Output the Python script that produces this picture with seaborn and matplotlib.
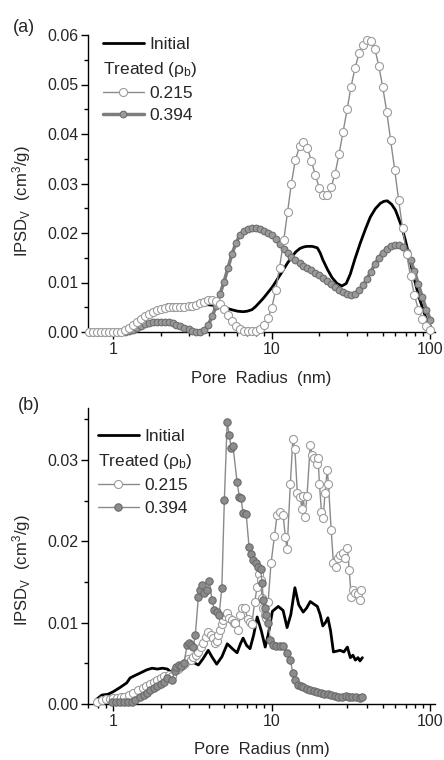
import matplotlib
matplotlib.use("Agg")
import numpy as np
import pandas as pd
import matplotlib.pyplot as plt
import seaborn as sns
from matplotlib.lines import Line2D
from matplotlib.ticker import MultipleLocator, LogLocator, NullFormatter, FormatStrFormatter

# ---------------- panel (a) ----------------
a_init_x = [2.2, 2.6, 3.0, 3.5, 4.0, 4.5, 5.2, 5.6, 6.1, 6.6, 7.0, 7.5, 7.9, 8.85, 10.1, 11.6,
            12.5, 13.4, 14.2, 15.1, 16.0, 16.7, 18.0, 19.4, 20.2, 21.0, 22.5, 24.0, 25.8, 27.7,
            29.5, 31.3, 33.5, 36.2, 39.0, 41.8, 45.0, 48.4, 51.0, 53.5, 57.0, 60.3, 63.0,
            66.4, 69.5, 72.7, 76.5, 80.4, 84.5, 89.0, 93.0, 96.0, 100.0]
a_init_y = [0.0055, 0.0055, 0.0055, 0.0055, 0.0055, 0.0053, 0.0048, 0.0045, 0.0042, 0.0041,
            0.0042, 0.0045, 0.0051, 0.0068, 0.0091, 0.0121, 0.0138, 0.0152, 0.0162, 0.0169,
            0.0172, 0.0173, 0.0173, 0.0170, 0.0160, 0.0146, 0.0126, 0.0110, 0.0098, 0.0093,
            0.0098, 0.0117, 0.0148, 0.0180, 0.0208, 0.0232, 0.0249, 0.0260, 0.0264, 0.0265,
            0.0258, 0.0246, 0.0230, 0.0210, 0.0186, 0.0160, 0.0128, 0.0099, 0.0072, 0.0050,
            0.0032, 0.0022, 0.0012]

a_215_x = [0.71, 0.75, 0.79, 0.84, 0.89, 0.94, 1.00, 1.06, 1.12, 1.19, 1.26, 1.33, 1.41, 1.50,
           1.58, 1.68, 1.78, 1.88, 2.00, 2.11, 2.24, 2.37, 2.51, 2.66, 2.82, 2.99, 3.16, 3.35,
           3.55, 3.76, 3.98, 4.22, 4.47, 4.73, 5.01, 5.31, 5.62, 5.96, 6.31, 6.68, 7.08, 7.50,
           7.94, 8.41, 8.91, 9.44, 10.0, 10.6, 11.2, 11.9, 12.6, 13.3, 14.1, 15.0, 15.8, 16.8,
           17.8, 18.8, 20.0, 21.1, 22.4, 23.7, 25.1, 26.6, 28.2, 29.9, 31.6, 33.5, 35.5, 37.6,
           39.8, 42.2, 44.7, 47.3, 50.1, 53.1, 56.2, 59.6, 63.1, 66.8, 70.8, 75.0, 79.4, 84.1,
           89.1, 94.4, 100.0]
a_215_y = [0.0, 0.0, 0.0, 0.0, 0.0, 0.0, 0.0, 0.0, 0.0001, 0.0004, 0.0009, 0.0015, 0.0021,
           0.0027, 0.0032, 0.0037, 0.0041, 0.0044, 0.0047, 0.0049, 0.0050, 0.0051, 0.0051,
           0.0051, 0.0051, 0.0052, 0.0053, 0.0055, 0.0058, 0.0061, 0.0064, 0.0065, 0.0063,
           0.0056, 0.0046, 0.0034, 0.0022, 0.0012, 0.0006, 0.0003, 0.0002, 0.0002, 0.0003,
           0.0006, 0.0014, 0.0028, 0.0048, 0.0085, 0.0130, 0.0185, 0.0243, 0.0300, 0.0348,
           0.0375, 0.0383, 0.0372, 0.0345, 0.0318, 0.0290, 0.0277, 0.0277, 0.0293, 0.0320,
           0.0360, 0.0405, 0.0450, 0.0495, 0.0533, 0.0563, 0.0580, 0.0590, 0.0587, 0.0572,
           0.0538, 0.0495, 0.0445, 0.0387, 0.0328, 0.0267, 0.0210, 0.0158, 0.0113, 0.0074,
           0.0045, 0.0027, 0.0013, 0.0004]

a_394_x = [1.19, 1.26, 1.33, 1.41, 1.50, 1.58, 1.68, 1.78, 1.88, 2.00, 2.11, 2.24, 2.37, 2.51,
           2.66, 2.82, 2.99, 3.16, 3.35, 3.55, 3.76, 3.98, 4.22, 4.47, 4.73, 5.01, 5.31, 5.62,
           5.96, 6.31, 6.68, 7.08, 7.50, 7.94, 8.41, 8.91, 9.44, 10.0, 10.6, 11.2, 11.9, 12.6,
           13.3, 14.1, 15.0, 15.8, 16.8, 17.8, 18.8, 20.0, 21.1, 22.4, 23.7, 25.1, 26.6, 28.2,
           29.9, 31.6, 33.5, 35.5, 37.6, 39.8, 42.2, 44.7, 47.3, 50.1, 53.1, 56.2, 59.6, 63.1,
           66.8, 70.8, 75.0, 79.4, 84.1, 89.1, 94.4, 100.0]
a_394_y = [0.0, 0.0002, 0.0005, 0.0009, 0.0013, 0.0016, 0.0018, 0.0020, 0.0021, 0.0021,
           0.0021, 0.0020, 0.0018, 0.0015, 0.0012, 0.0009, 0.0006, 0.0003, 0.0001, 0.0001,
           0.0004, 0.0014, 0.0032, 0.0053, 0.0077, 0.0102, 0.0130, 0.0158, 0.0180, 0.0196,
           0.0205, 0.0209, 0.0210, 0.0210, 0.0208, 0.0205, 0.0200, 0.0196, 0.0188, 0.0178,
           0.0168, 0.0160, 0.0152, 0.0145, 0.0139, 0.0134, 0.0129, 0.0125, 0.0120, 0.0115,
           0.0109, 0.0103, 0.0097, 0.0091, 0.0085, 0.0080, 0.0076, 0.0075, 0.0077, 0.0084,
           0.0094, 0.0107, 0.0122, 0.0137, 0.0150, 0.0160, 0.0168, 0.0173, 0.0176, 0.0176,
           0.0172, 0.0162, 0.0145, 0.0123, 0.0096, 0.0070, 0.0045, 0.0025]

# ---------------- panel (b) ----------------
b_init_x = [0.79, 0.85, 0.93, 1.0, 1.1, 1.22, 1.28, 1.34, 1.48, 1.63, 1.76, 1.9, 2.05, 2.2,
            2.35, 2.6, 2.9, 3.14, 3.45, 3.7, 3.98, 4.2, 4.5, 4.85, 5.25, 5.65, 6.05, 6.35, 6.6,
            6.95, 7.3, 7.7, 8.1, 8.6, 9.1, 9.5, 10.1, 11.0, 11.8, 12.5, 13.2, 14.0, 14.8, 15.8,
            16.6, 17.5, 18.4, 19.4, 20.2, 21.0, 21.8, 22.6, 23.5, 24.5, 25.7, 27.0, 28.5, 30.0,
            31.3, 32.5, 33.7, 35.0, 36.0, 37.3]
b_init_y = [0.0006, 0.0011, 0.0012, 0.0015, 0.0020, 0.0026, 0.0032, 0.0034, 0.0038, 0.0042,
            0.0044, 0.0043, 0.0044, 0.0043, 0.0038, 0.0042, 0.0048, 0.0052, 0.0048, 0.0056,
            0.0066, 0.0058, 0.0049, 0.0058, 0.0074, 0.0068, 0.0063, 0.0074, 0.0081, 0.0072,
            0.0068, 0.0085, 0.0107, 0.0090, 0.0070, 0.0085, 0.0114, 0.0120, 0.0115, 0.0094,
            0.0110, 0.0143, 0.0122, 0.0113, 0.0118, 0.0126, 0.0123, 0.0120, 0.0110, 0.0096,
            0.0100, 0.0106, 0.0090, 0.0064, 0.0065, 0.0066, 0.0064, 0.0070, 0.0057, 0.0060,
            0.0054, 0.0057, 0.0053, 0.0057]

b_215_x = [0.79, 0.85, 0.90, 0.95, 1.0, 1.06, 1.12, 1.18, 1.26, 1.34, 1.44, 1.55, 1.62, 1.70,
           1.80, 1.90, 2.0, 2.1, 2.25, 2.35, 2.45, 2.55, 2.65, 2.75, 2.85, 2.95, 3.1, 3.2, 3.35,
           3.45, 3.6, 3.7, 3.85, 3.98, 4.12, 4.27, 4.4, 4.5, 4.6, 4.72, 4.85, 4.95, 5.08, 5.2,
           5.4, 5.6, 5.75, 5.9, 6.15, 6.35, 6.5, 6.8, 7.05, 7.3, 7.5, 7.8, 8.1, 8.35, 8.5, 8.7,
           8.85, 9.05, 9.25, 9.5, 9.9, 10.4, 10.8, 11.3, 11.8, 12.2, 12.5, 13.1, 13.6, 14.0,
           14.5, 15.1, 15.5, 15.8, 16.2, 16.7, 17.5, 18.0, 18.6, 19.2, 19.6, 20.0, 20.6, 21.1,
           21.7, 22.4, 22.8, 23.7, 24.5, 25.3, 26.0, 27.0, 28.0, 29.0, 30.0, 30.8, 31.7, 32.7,
           33.7, 34.8, 35.8, 36.8]
b_215_y = [0.0003, 0.0005, 0.0006, 0.0006, 0.0007, 0.0007, 0.0008, 0.0009, 0.0011, 0.0014,
           0.0017, 0.0020, 0.0022, 0.0024, 0.0027, 0.0030, 0.0032, 0.0034, 0.0036, 0.0035,
           0.0042, 0.0043, 0.0046, 0.0048, 0.0050, 0.0055, 0.0054, 0.0058, 0.0060, 0.0064,
           0.0070, 0.0075, 0.0082, 0.0089, 0.0085, 0.0081, 0.0075, 0.0077, 0.0085, 0.0091,
           0.0098, 0.0103, 0.0108, 0.0112, 0.0106, 0.0103, 0.0100, 0.0099, 0.0091, 0.0110,
           0.0118, 0.0118, 0.0104, 0.0101, 0.0098, 0.0125, 0.0144, 0.0160, 0.0153, 0.0130,
           0.0118, 0.0110, 0.0106, 0.0126, 0.0173, 0.0206, 0.0232, 0.0236, 0.0233, 0.0205,
           0.0190, 0.0270, 0.0326, 0.0314, 0.0260, 0.0255, 0.0240, 0.0256, 0.0230, 0.0256,
           0.0319, 0.0306, 0.0302, 0.0295, 0.0302, 0.0270, 0.0236, 0.0229, 0.0260, 0.0288,
           0.0270, 0.0214, 0.0173, 0.0168, 0.0180, 0.0183, 0.0186, 0.0180, 0.0192, 0.0165,
           0.0132, 0.0140, 0.0137, 0.0135, 0.0128, 0.0140]

b_394_x = [0.98, 1.04, 1.1, 1.17, 1.24, 1.31, 1.38, 1.48, 1.56, 1.63, 1.72, 1.8, 1.9, 2.0,
           2.1, 2.2, 2.35, 2.45, 2.5, 2.6, 2.7, 2.8, 2.93, 3.0, 3.1, 3.2, 3.3, 3.45, 3.55, 3.64,
           3.76, 3.9, 4.05, 4.2, 4.35, 4.5, 4.66, 4.85, 5.03, 5.24, 5.4, 5.55, 5.7, 6.05, 6.25,
           6.4, 6.6, 6.9, 7.2, 7.4, 7.6, 8.0, 8.2, 8.5, 8.7, 8.85, 9.05, 9.25, 9.5, 9.8, 10.2,
           10.6, 11.2, 11.8, 12.5, 13.1, 13.6, 14.0, 14.7, 15.3, 15.8, 16.6, 17.5, 18.4, 19.4,
           20.4, 21.4, 22.5, 23.7, 25.0, 26.3, 27.7, 29.2, 30.7, 32.3, 34.0, 35.8, 37.2]
b_394_y = [0.0002, 0.0002, 0.0002, 0.0002, 0.0002, 0.0003, 0.0005, 0.0009, 0.0011, 0.0013,
           0.0017, 0.0020, 0.0022, 0.0024, 0.0027, 0.0032, 0.0030, 0.0040, 0.0046, 0.0048,
           0.0047, 0.0050, 0.0073, 0.0075, 0.0072, 0.0070, 0.0085, 0.0132, 0.0140, 0.0146,
           0.0137, 0.0140, 0.0151, 0.0128, 0.0116, 0.0113, 0.0110, 0.0143, 0.0251, 0.0347,
           0.0331, 0.0315, 0.0317, 0.0273, 0.0255, 0.0253, 0.0235, 0.0234, 0.0193, 0.0185,
           0.0177, 0.0174, 0.0169, 0.0166, 0.0149, 0.0128, 0.0118, 0.0110, 0.0100, 0.0079,
           0.0072, 0.0071, 0.0071, 0.0071, 0.0063, 0.0054, 0.0038, 0.0030, 0.0023, 0.0022,
           0.0021, 0.0019, 0.0017, 0.0016, 0.0015, 0.0013, 0.0012, 0.0012, 0.0011, 0.0010,
           0.0009, 0.0009, 0.0010, 0.0009, 0.0008, 0.0008, 0.0007, 0.0008]

legend_labels = ["Initial", "Treated (ρ$_\\mathregular{b}$)", "0.215", "0.394"]

sns.set_style("ticks")
plt.rcParams["font.family"] = ["Liberation Sans", "DejaVu Sans"]
plt.rcParams["mathtext.fontset"] = "custom"
plt.rcParams["mathtext.rm"] = "Liberation Sans"
plt.rcParams["mathtext.it"] = "Liberation Sans:italic"


def line(ax, x, y, **kw):
    sns.lineplot(x=x, y=y, ax=ax, sort=False, estimator=None, clip_on=False, **kw)


def style_axes(ax, ymax, xlabel):
    ax.set_xscale("log")
    ax.set_xlim(0.695, 107)
    ax.set_ylim(0, ymax)
    ax.set_xticks([1, 10, 100])
    ax.set_xticklabels(["1", "10", "100"])
    ax.xaxis.set_minor_locator(LogLocator(base=10, subs=np.arange(2, 10)))
    ax.xaxis.set_minor_formatter(NullFormatter())
    ax.yaxis.set_major_locator(MultipleLocator(0.01))
    ax.yaxis.set_minor_locator(MultipleLocator(0.005))
    ax.yaxis.set_major_formatter(FormatStrFormatter("%.2f"))
    ax.tick_params(which="major", direction="out", length=5, width=1, labelsize=11.5,
                   pad=2, color="black")
    ax.tick_params(which="minor", direction="out", length=3, width=1, color="black")
    sns.despine(ax=ax)
    for s in ["left", "bottom"]:
        ax.spines[s].set_color("black")
        ax.spines[s].set_linewidth(1)
    ax.set_xlabel(xlabel, fontsize=12)
    ax.set_ylabel("IPSD$_\\mathregular{V}$  (cm$^\\mathregular{3}$/g)", fontsize=12)
    ax.xaxis.set_label_coords(0.5, -0.13)


def add_legend(ax, h215, h394, x0, ytop):
    handles = [Line2D([], [], color="black", lw=2), Line2D([], [], color="none"), h215, h394]
    leg = ax.legend(handles, legend_labels, loc="upper left", bbox_to_anchor=(x0, ytop),
                    frameon=False, fontsize=12.5, borderpad=0, borderaxespad=0,
                    handlelength=2.35, handletextpad=0.3, labelspacing=0.42, numpoints=1)
    fig.canvas.draw()
    t = leg.get_texts()[1]
    bb = t.get_window_extent()
    yb = ax.transAxes.inverted().transform((bb.x0, bb.y0))[1]
    t.set_visible(False)
    ax.text(x0, yb, legend_labels[1], transform=ax.transAxes, fontsize=12.5,
            ha="left", va="bottom")


fig = plt.figure(figsize=(4.44, 7.6), dpi=100)
ax_a = fig.add_axes([88 / 444, 1 - 332 / 760, 347 / 444, 297 / 760])
ax_b = fig.add_axes([88 / 444, 1 - 704 / 760, 347 / 444, 296 / 760])

# (a)
line(ax_a, a_init_x, a_init_y, color="black", lw=2, zorder=2)
line(ax_a, a_394_x, a_394_y, color="#7d7d7d", lw=2.5, marker="o", markersize=4.8,
     markerfacecolor="#9a9a9a", markeredgecolor="#6e6e6e", markeredgewidth=0.8, zorder=3)
line(ax_a, a_215_x, a_215_y, color="#8a8a8a", lw=1, marker="o", markersize=5.8,
     markerfacecolor="white", markeredgecolor="#9c9c9c", markeredgewidth=0.8, zorder=4)
style_axes(ax_a, 0.06, "Pore  Radius  (nm)")
ax_a.yaxis.set_label_coords(-0.158, 0.44)
ax_a.text(-0.184, 1.025, "(a)", transform=ax_a.transAxes, fontsize=13, ha="center", va="center")

# (b)
line(ax_b, b_init_x, b_init_y, color="black", lw=2, zorder=2)
line(ax_b, b_215_x, b_215_y, color="#8a8a8a", lw=1, marker="o", markersize=5.8,
     markerfacecolor="white", markeredgecolor="#9c9c9c", markeredgewidth=0.8, zorder=3)
line(ax_b, b_394_x, b_394_y, color="#8a8a8a", lw=1, marker="o", markersize=5.3,
     markerfacecolor="#8c8c8c", markeredgecolor="#6a6a6a", markeredgewidth=0.8, zorder=4)
style_axes(ax_b, 0.0364, "Pore  Radius (nm)")
ax_b.yaxis.set_label_coords(-0.158, 0.453)
ax_b.text(-0.17, 1.01, "(b)", transform=ax_b.transAxes, fontsize=13, ha="center", va="center")

h215 = Line2D([], [], color="#8a8a8a", lw=1, marker="o", markersize=5.8,
              markerfacecolor="white", markeredgecolor="#9c9c9c", markeredgewidth=0.8)
h394a = Line2D([], [], color="#7d7d7d", lw=2.5, marker="o", markersize=4.8,
               markerfacecolor="#9a9a9a", markeredgecolor="#6e6e6e", markeredgewidth=0.8)
h394b = Line2D([], [], color="#8a8a8a", lw=1, marker="o", markersize=5.3,
               markerfacecolor="#8c8c8c", markeredgecolor="#6a6a6a", markeredgewidth=0.8)

add_legend(ax_a, h215, h394a, 0.043, 0.993)
add_legend(ax_b, h215, h394b, 0.029, 0.928)

fig.savefig("out.png", dpi=100, facecolor="white")
